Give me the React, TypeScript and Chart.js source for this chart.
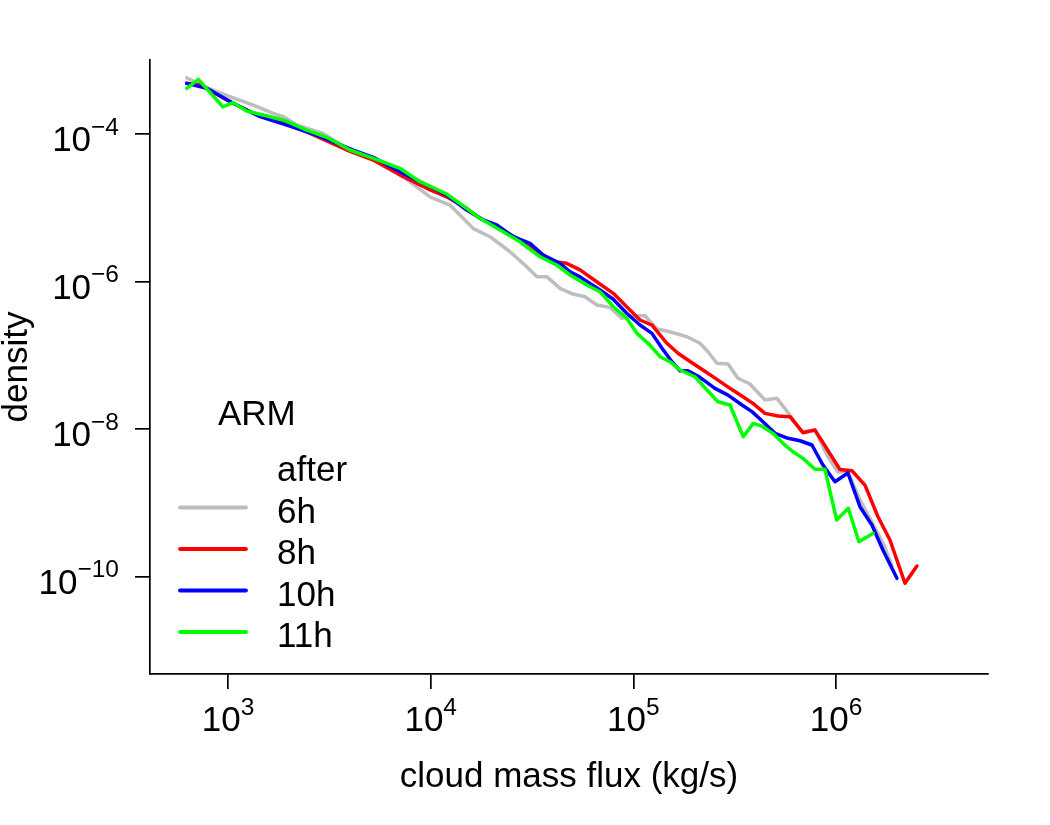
import React, { useEffect, useRef } from "react";
import { Chart, registerables } from "chart.js";

Chart.register(...registerables);

// ---- data ----
const flux6h = [625, 797, 1023, 1333, 1673, 1889, 2190, 2943, 3864, 4851, 7300, 9920, 12450, 16170, 19610, 24610, 28530, 33440, 37480, 43430, 50350, 57700, 66130, 76640, 87830, 99540, 114100, 130700, 151500, 183800, 213100, 233300, 258400, 292900, 328100, 376000, 445900, 510900, 592200, 678700, 786800, 901800, 1021000, 1144000, 1312000, 1503000, 1723000, 1887000];
const density6h = [5.79e-4, 4.2e-4, 3.2e-4, 2.47e-4, 1.91e-4, 1.7e-4, 1.32e-4, 1.02e-4, 6.4e-5, 4.92e-5, 2.64e-5, 1.41e-5, 1.09e-5, 5.27e-6, 4.06e-6, 2.54e-6, 1.77e-6, 1.16e-6, 1.16e-6, 8.11e-7, 6.79e-7, 6.24e-7, 4.82e-7, 4.48e-7, 3.18e-7, 3.45e-7, 3.45e-7, 2.28e-7, 2.09e-7, 1.79e-7, 1.46e-7, 1.12e-7, 7.82e-8, 7.65e-8, 4.9e-8, 4.1e-8, 2.49e-8, 2.62e-8, 1.56e-8, 9.25e-9, 9.75e-9, 4.47e-9, 2.63e-9, 2.65e-9, 1.1e-9, 5.53e-10, 2.7e-10, 1.4e-10];

const flux8h = [625, 728, 985, 1333, 1805, 2444, 3851, 5211, 7325, 9555, 11990, 15050, 17500, 21160, 26560, 33330, 40250, 46870, 54520, 65910, 79600, 92670, 107800, 123500, 146400, 166000, 194500, 220400, 258400, 299600, 347300, 389000, 445900, 516800, 592200, 686600, 786800, 1045000, 1198000, 1389000, 1610000, 1845000, 2188000, 2506000];
const density8h = [4.86e-4, 4.61e-4, 2.89e-4, 1.91e-4, 1.47e-4, 1.07e-4, 6.07e-5, 4.44e-5, 2.64e-5, 1.84e-5, 1.41e-5, 9.84e-6, 7.21e-6, 5.55e-6, 3.86e-6, 2.54e-6, 1.86e-6, 1.77e-6, 1.44e-6, 9.97e-7, 6.94e-7, 4.57e-7, 3.02e-7, 2.58e-7, 1.46e-7, 1.07e-7, 7.96e-8, 6.34e-8, 4.74e-8, 3.58e-8, 2.76e-8, 2.24e-8, 1.64e-8, 1.51e-8, 1.48e-8, 8.97e-9, 9.75e-9, 2.84e-9, 2.74e-9, 1.75e-9, 6.52e-10, 3.15e-10, 8.17e-11, 1.4e-10];

const flux10h = [625, 785, 1062, 1438, 1949, 2740, 4150, 5211, 7325, 9555, 11990, 15050, 18180, 21160, 25560, 30900, 35940, 43430, 48660, 54520, 68430, 79310, 92670, 107800, 123500, 138400, 155000, 169800, 185900, 213100, 252600, 292900, 343400, 384600, 435800, 499900, 579200, 663700, 760300, 861700, 987600, 1144000, 1312000, 1503000, 1703000, 1997000];
const density10h = [4.86e-4, 4.16e-4, 2.61e-4, 1.72e-4, 1.32e-4, 9.69e-5, 6.07e-5, 4.83e-5, 2.93e-5, 2.04e-5, 1.49e-5, 9.33e-6, 6.84e-6, 5.85e-6, 4.06e-6, 3.3e-6, 2.29e-6, 1.77e-6, 1.36e-6, 1.16e-6, 7.69e-7, 5.81e-7, 3.72e-7, 2.58e-7, 1.99e-7, 1.25e-7, 8.22e-8, 6.2e-8, 6.2e-8, 5.05e-8, 3.58e-8, 2.9e-8, 2.13e-8, 1.73e-8, 1.26e-8, 8.79e-9, 7.53e-9, 6.98e-9, 6.11e-9, 3.27e-9, 1.94e-9, 2.55e-9, 8.91e-10, 5.04e-10, 2.31e-10, 9.54e-11];

const flux11h = [625, 714, 942, 1062, 1236, 1438, 1875, 2444, 3069, 3998, 5211, 7055, 8855, 11990, 15050, 17500, 21970, 27570, 34610, 41840, 48660, 58850, 68430, 79600, 92670, 104200, 120700, 135300, 151500, 169800, 201300, 230700, 261500, 299600, 348500, 390400, 430900, 488300, 547000, 612800, 686600, 786800, 881600, 1007000, 1149000, 1297000, 1526000];
const density11h = [4.16e-4, 5.51e-4, 2.34e-4, 2.66e-4, 2.05e-4, 1.85e-4, 1.55e-4, 1.13e-4, 9.02e-5, 6.07e-5, 4.69e-5, 3.43e-5, 2.26e-5, 1.54e-5, 9.84e-6, 7.21e-6, 5.0e-6, 3.47e-6, 2.17e-6, 1.68e-6, 1.23e-6, 8.99e-7, 7.3e-7, 4.57e-7, 3.18e-7, 1.99e-7, 1.38e-7, 9.6e-8, 8.22e-8, 6.34e-8, 5.14e-8, 3.4e-8, 2.36e-8, 2.13e-8, 7.91e-9, 1.2e-8, 1.1e-8, 8.79e-9, 6.44e-9, 4.95e-9, 4.03e-9, 2.86e-9, 2.86e-9, 5.88e-10, 8.47e-10, 2.99e-10, 3.88e-10];

const seriesLabels = ["6h", "8h", "10h", "11h"];
const seriesColors = ["#BEBEBE", "#FF0000", "#0000FF", "#00FF00"];
const legendTitle = "ARM";
const legendHeader = "after";

const xTickValues = [1e3, 1e4, 1e5, 1e6];
const xTickExponents = ["3", "4", "5", "6"];
const yTickValues = [1e-4, 1e-6, 1e-8, 1e-10];
const yTickExponents = ["\u22124", "\u22126", "\u22128", "\u221210"];

const xTitle = "cloud mass flux (kg/s)";
const yTitle = "density";

const X_MIN = 412;
const X_MAX = 5.62e6;
const Y_MIN = 4.82e-12;
const Y_MAX = 1.007e-3;

const FONT = '"Liberation Sans", Arial, Helvetica, sans-serif';
const BASE_PX = 35;
const SUP_PX = 24.5;

const makeSeries = (xs: number[], ys: number[]) => xs.map((x, i) => ({ x, y: ys[i] }));

const rTextPlugin = {
  id: "rText",
  afterDraw(chart: any) {
    const ctx = chart.ctx as CanvasRenderingContext2D;
    const area = chart.chartArea;
    const xs = chart.scales.x;
    const ys = chart.scales.y;
    ctx.save();
    ctx.fillStyle = "#000";
    ctx.textAlign = "left";
    ctx.textBaseline = "alphabetic";

    // x tick labels 10^n
    xTickValues.forEach((v, i) => {
      const px = xs.getPixelForValue(v);
      ctx.font = `${BASE_PX}px ${FONT}`;
      const w1 = ctx.measureText("10").width;
      ctx.font = `${SUP_PX}px ${FONT}`;
      const w2 = ctx.measureText(xTickExponents[i]).width;
      const left = px - (w1 + w2) / 2;
      const base = area.bottom + 57;
      ctx.font = `${BASE_PX}px ${FONT}`;
      ctx.fillText("10", left, base);
      ctx.font = `${SUP_PX}px ${FONT}`;
      ctx.fillText(xTickExponents[i], left + w1, base - 16.5);
    });

    // y tick labels 10^-n (right aligned)
    yTickValues.forEach((v, i) => {
      const py = ys.getPixelForValue(v);
      ctx.font = `${BASE_PX}px ${FONT}`;
      const w1 = ctx.measureText("10").width;
      ctx.font = `${SUP_PX}px ${FONT}`;
      const w2 = ctx.measureText(yTickExponents[i]).width;
      const right = area.left - 31;
      const left = right - w1 - w2;
      const base = py + 17;
      ctx.font = `${BASE_PX}px ${FONT}`;
      ctx.fillText("10", left, base);
      ctx.font = `${SUP_PX}px ${FONT}`;
      ctx.fillText(yTickExponents[i], left + w1, base - 16.5);
    });

    // axis titles
    ctx.font = `${BASE_PX}px ${FONT}`;
    ctx.textAlign = "center";
    ctx.fillText(xTitle, (area.left + area.right) / 2, 787);
    ctx.save();
    ctx.translate(27, (area.top + area.bottom) / 2);
    ctx.rotate(-Math.PI / 2);
    ctx.fillText(yTitle, 0, 0);
    ctx.restore();

    // legend
    ctx.textAlign = "left";
    ctx.fillText(legendTitle, 218, 424.5);
    ctx.fillText(legendHeader, 277, 481);
    seriesLabels.forEach((lab, i) => {
      const baseY = 522.5 + i * 41.5;
      ctx.strokeStyle = seriesColors[i];
      ctx.lineWidth = 3.8;
      ctx.lineCap = "round";
      ctx.beginPath();
      ctx.moveTo(180, baseY - 15);
      ctx.lineTo(246, baseY - 15);
      ctx.stroke();
      ctx.fillText(lab, 277, baseY);
    });
    ctx.restore();
  },
};

export default function App() {
  const canvasRef = useRef<HTMLCanvasElement | null>(null);

  useEffect(() => {
    if (!canvasRef.current) return;
    const sets = [
      { data: makeSeries(flux6h, density6h), order: 4 },
      { data: makeSeries(flux8h, density8h), order: 3 },
      { data: makeSeries(flux10h, density10h), order: 2 },
      { data: makeSeries(flux11h, density11h), order: 1 },
    ].map((s, i) => ({
      label: seriesLabels[i],
      data: s.data,
      order: s.order,
      borderColor: seriesColors[i],
      backgroundColor: seriesColors[i],
      borderWidth: 3.5,
      pointRadius: 0,
      pointHoverRadius: 0,
      fill: false,
      tension: 0,
      borderJoinStyle: "round" as const,
      borderCapStyle: "round" as const,
    }));

    const axisCommon = {
      grid: {
        display: true,
        drawOnChartArea: false,
        drawTicks: true,
        tickLength: 15,
        color: "#000",
        lineWidth: 1.7,
      },
      border: { display: true, color: "#000", width: 1.7 },
    };

    const chart = new Chart(canvasRef.current, {
      type: "line",
      data: { datasets: sets as any },
      options: {
        animation: false,
        responsive: false,
        maintainAspectRatio: false,
        devicePixelRatio: 1,
        layout: { padding: { left: 150, right: 62, top: 60, bottom: 151 } },
        plugins: { legend: { display: false }, tooltip: { enabled: false } },
        events: [],
        scales: {
          x: {
            type: "logarithmic",
            min: X_MIN,
            max: X_MAX,
            ...axisCommon,
            ticks: { display: false },
            afterBuildTicks: (s: any) => {
              s.ticks = xTickValues.map((v) => ({ value: v }));
            },
            afterFit: (s: any) => {
              s.height = 0;
            },
          },
          y: {
            type: "logarithmic",
            min: Y_MIN,
            max: Y_MAX,
            ...axisCommon,
            ticks: { display: false },
            afterBuildTicks: (s: any) => {
              s.ticks = yTickValues.map((v) => ({ value: v }));
            },
            afterFit: (s: any) => {
              s.width = 0;
            },
          },
        },
      } as any,
      plugins: [rTextPlugin],
    });
    return () => chart.destroy();
  }, []);

  return (
    <div style={{ position: "fixed", left: 0, top: 0, width: 1050, height: 825, background: "#fff" }}>
      <canvas ref={canvasRef} width={1050} height={825} style={{ display: "block" }} />
    </div>
  );
}
